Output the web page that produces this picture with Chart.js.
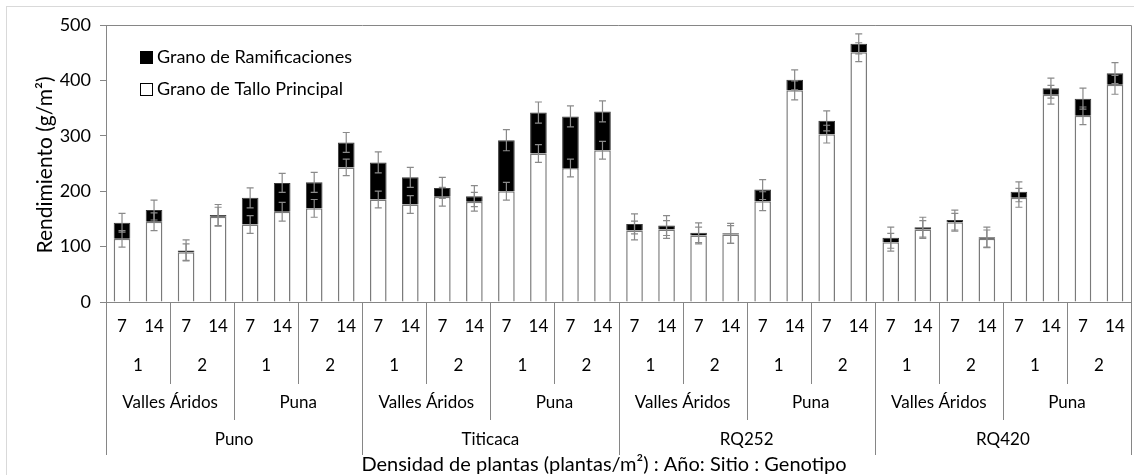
<!DOCTYPE html>
<html>
<head>
<meta charset="utf-8">
<script src="https://cdn.jsdelivr.net/npm/chart.js@4.4.0/dist/chart.umd.min.js"></script>
<style>
  html, body { margin: 0; padding: 0; background: #fff; }
  #wrap { position: relative; width: 1134px; height: 475px; }
</style>
</head>
<body>
<div id="wrap"><canvas id="graphic" width="1134" height="475"></canvas></div>
<script>
// category levels (outer -> inner)
const genotypes = ["Puno", "Titicaca", "RQ252", "RQ420"];
const sites = ["Valles Áridos", "Puna"];
const years = ["1", "2"];
const densities = ["7", "14"];

// grain yield g/m2
const mainStem = [114, 145, 90, 154, 140, 163, 169, 243,
                  185, 176, 190, 181, 200, 268, 242, 274,
                  129, 131, 120, 122, 182, 382, 303, 451,
                  108, 131, 144, 114, 188, 374, 336, 392];
const branches = [29, 21, 3, 3, 48, 52, 47, 45,
                  67, 49, 16, 10, 92, 74, 93, 70,
                  12, 7, 5, 2, 21, 19, 24, 15,
                  8, 4, 4, 3, 11, 12, 31, 21];
// error bars (+/-)
const errMain = [15, 16, 15, 17, 16, 17, 16, 15,
                 15, 16, 17, 17, 16, 16, 16, 16,
                 17, 16, 15, 16, 17, 17, 16, 17,
                 16, 16, 16, 16, 17, 17, 16, 17];
const errTotal = [17, 18, 19, 19, 18, 17, 18, 18,
                  19, 18, 19, 19, 19, 19, 19, 19,
                  18, 18, 18, 18, 18, 18, 18, 18,
                  19, 18, 18, 18, 18, 18, 19, 19];
const yTicks = [0, 100, 200, 300, 400, 500];

const labels = [];
genotypes.forEach(g => sites.forEach(s => years.forEach(y => densities.forEach(d => {
  labels.push([d, y, s, g]);
}))));

const FONT = "Lato, 'Noto Sans', sans-serif";
const AXIS = "#868686";

const extras = {
  id: "extras",
  afterDatasetsDraw(chart) {
    const { ctx, scales: { x, y } } = chart;
    // error bars
    ctx.save();
    ctx.strokeStyle = "#8a8a8a";
    ctx.lineWidth = 1.2;
    const bar = (xc, v, e) => {
      const t = y.getPixelForValue(v + e), b = y.getPixelForValue(v - e);
      ctx.beginPath();
      ctx.moveTo(xc, t); ctx.lineTo(xc, b);
      ctx.moveTo(xc - 3.5, t); ctx.lineTo(xc + 3.5, t);
      ctx.moveTo(xc - 3.5, b); ctx.lineTo(xc + 3.5, b);
      ctx.stroke();
    };
    mainStem.forEach((m, i) => {
      const xc = x.getPixelForValue(i);
      bar(xc, m + branches[i], errTotal[i]);
      bar(xc, m, errMain[i]);
    });
    ctx.restore();
  },
  afterDraw(chart) {
    const { ctx, chartArea: a, scales: { x } } = chart;
    ctx.save();
    // outer light frame
    ctx.strokeStyle = "#d9d9d9";
    ctx.lineWidth = 1;
    ctx.strokeRect(6.5, 6.5, 1140, 480);
    // plot box top + right
    ctx.strokeStyle = AXIS;
    ctx.beginPath();
    ctx.moveTo(a.left, a.top + 0.5); ctx.lineTo(a.right + 0.5, a.top + 0.5);
    ctx.lineTo(a.right + 0.5, a.bottom);
    ctx.stroke();

    // multi-level category axis
    const n = labels.length;
    const w = (a.right - a.left) / n;
    const edge = k => Math.round(a.left + k * w) + 0.5;
    ctx.beginPath();
    for (let k = 0; k <= n; k += 2) {
      const bottom = k % 8 === 0 ? 455 : k % 4 === 0 ? 420 : 384;
      ctx.moveTo(edge(k), a.bottom); ctx.lineTo(edge(k), bottom);
    }
    ctx.stroke();

    ctx.fillStyle = "#000";
    ctx.textAlign = "center";
    ctx.textBaseline = "middle";
    ctx.font = "17px " + FONT;
    const rows = [327, 366, 403, 440];
    const spans = [1, 2, 4, 8];
    spans.forEach((span, lvl) => {
      for (let i = 0; i < n; i += span) {
        const xc = (x.getPixelForValue(i) + x.getPixelForValue(i + span - 1)) / 2;
        ctx.fillText(labels[i][lvl], xc, rows[lvl]);
      }
    });
    ctx.font = "20px " + FONT;
    ctx.fillText("Densidad de plantas (plantas/m²) : Año: Sitio : Genotipo", 604, 465);

    // y title
    ctx.save();
    ctx.translate(45, 165);
    ctx.rotate(-Math.PI / 2);
    ctx.font = "21px " + FONT;
    ctx.fillText("Rendimiento (g/m²)", 0, 0);
    ctx.restore();

    // legend inside plot
    ctx.textAlign = "left";
    ctx.font = "18px " + FONT;
    const items = [chart.data.datasets[1], chart.data.datasets[0]];
    items.forEach((ds, j) => {
      const yc = 57 + j * 32;
      ctx.fillStyle = ds.backgroundColor;
      ctx.fillRect(140, yc - 6, 13, 13);
      ctx.strokeStyle = "#000";
      ctx.lineWidth = 1;
      ctx.strokeRect(140.5, yc - 5.5, 12, 12);
      ctx.fillStyle = "#000";
      ctx.fillText(ds.label, 157, yc);
    });
    ctx.restore();
  }
};

new Chart(document.getElementById("graphic").getContext("2d"), {
  type: "bar",
  data: {
    labels: labels,
    datasets: [
      {
        label: "Grano de Tallo Principal",
        data: mainStem,
        backgroundColor: "#ffffff",
        borderColor: "#7a7a7a",
        borderWidth: 1.5,
        barPercentage: 0.52,
        categoryPercentage: 1
      },
      {
        label: "Grano de Ramificaciones",
        data: branches,
        backgroundColor: "#000000",
        borderColor: "#3a3a3a",
        borderWidth: 1,
        barPercentage: 0.52,
        categoryPercentage: 1
      }
    ]
  },
  options: {
    responsive: false,
    animation: false,
    layout: { padding: { left: 0, top: 25, right: 3, bottom: 173 } },
    plugins: { legend: { display: false }, tooltip: { enabled: false }, title: { display: false } },
    scales: {
      x: {
        stacked: true,
        afterFit: s => { s.height = 0; },
        ticks: { display: false },
        grid: { display: false },
        border: { color: AXIS, width: 1 }
      },
      y: {
        stacked: true,
        min: 0,
        max: 500,
        afterFit: s => { s.width = 106; },
        afterBuildTicks: s => { s.ticks = yTicks.map(v => ({ value: v })); },
        ticks: { color: "#000", padding: 9, font: { family: FONT, size: 18 } },
        grid: { drawOnChartArea: false, tickLength: 6, color: AXIS },
        border: { color: AXIS, width: 1 }
      }
    }
  },
  plugins: [extras]
});
</script>
</body>
</html>
